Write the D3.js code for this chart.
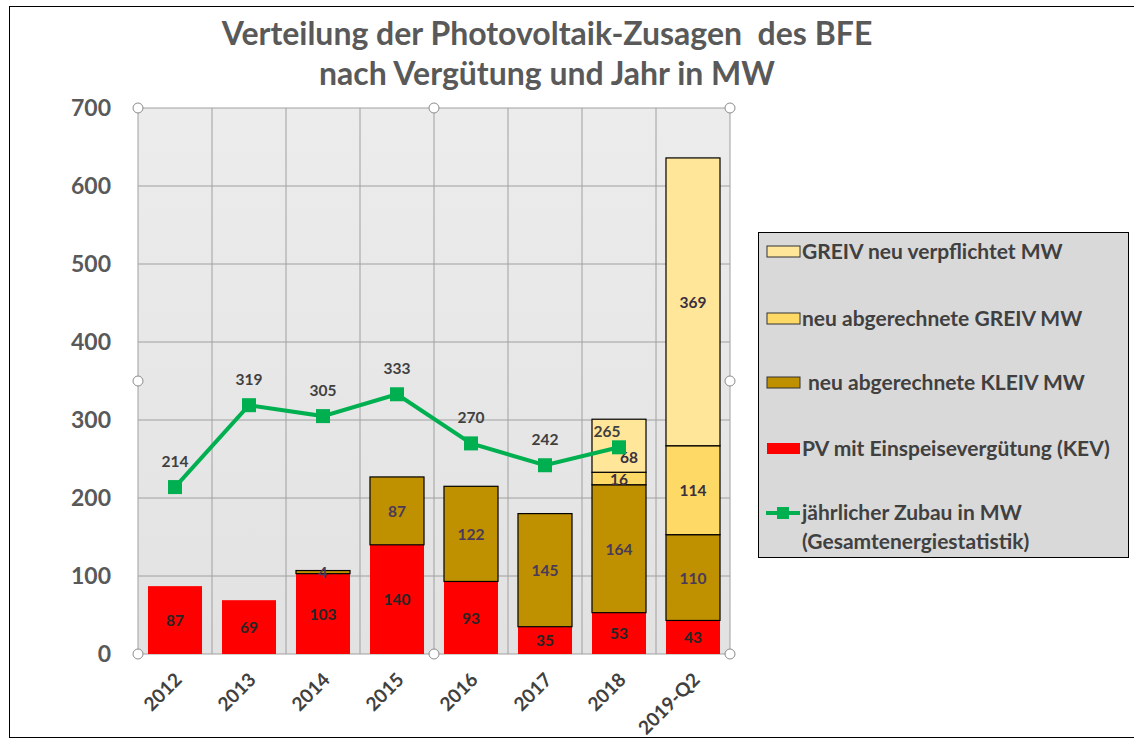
<!DOCTYPE html>
<html>
<head>
<meta charset="utf-8">
<script src="https://cdn.jsdelivr.net/npm/d3@7/dist/d3.min.js"></script>
<style>
  body { margin: 0; background: #fff; }
  svg text { font-family: Lato, "Open Sans", "DejaVu Sans", sans-serif; font-weight: bold; }
</style>
</head>
<body>
<div id="chart"></div>
<script>
// data
const years = ["2012", "2013", "2014", "2015", "2016", "2017", "2018", "2019-Q2"];
const kev = [87, 69, 103, 140, 93, 35, 53, 43];
const kleiv = [0, 0, 4, 87, 122, 145, 164, 110];
const greivAbgerechnet = [0, 0, 0, 0, 0, 0, 16, 114];
const greivVerpflichtet = [0, 0, 0, 0, 0, 0, 68, 369];
const zubau = [214, 319, 305, 333, 270, 242, 265, null];
const yTicks = [0, 100, 200, 300, 400, 500, 600, 700];

const width = 1134, height = 742;
const plot = { left: 138, right: 730, top: 108, bottom: 654 };

const svg = d3.select("#chart").append("svg")
    .attr("width", width)
    .attr("height", height);

// outer frame
svg.append("rect")
    .attr("x", 9.5).attr("y", 6.5)
    .attr("width", width).attr("height", 731)
    .attr("fill", "#fff").attr("stroke", "#000");

// title
const title = svg.append("text")
    .attr("text-anchor", "middle")
    .attr("fill", "#595959")
    .style("font-size", "32px")
    .style("white-space", "pre");
title.append("tspan").attr("x", 547).attr("y", 45)
    .text("Verteilung der Photovoltaik-Zusagen  des BFE");
title.append("tspan").attr("x", 547).attr("y", 85)
    .text("nach Vergütung und Jahr in MW");

const x = d3.scaleBand()
    .domain(years)
    .range([plot.left, plot.right])
    .padding(0);

const y = d3.scaleLinear()
    .domain([0, 700])
    .range([plot.bottom, plot.top]);

const barW = x.bandwidth() * 0.73;

// plot background
const grad = svg.append("defs").append("linearGradient")
    .attr("id", "bg").attr("x1", 0).attr("y1", 0).attr("x2", 0).attr("y2", 1);
grad.append("stop").attr("offset", "0%").attr("stop-color", "#ececec");
grad.append("stop").attr("offset", "100%").attr("stop-color", "#e2e2e2");

svg.append("rect")
    .attr("x", plot.left).attr("y", plot.top)
    .attr("width", plot.right - plot.left)
    .attr("height", plot.bottom - plot.top)
    .attr("fill", "url(#bg)");

// grid
svg.append("g").selectAll("line")
    .data(yTicks)
    .enter().append("line")
    .attr("x1", plot.left).attr("x2", plot.right)
    .attr("y1", d => y(d)).attr("y2", d => y(d))
    .attr("stroke", "#a0a0a0").attr("stroke-width", 1);

svg.append("g").selectAll("line")
    .data(years.concat(["end"]))
    .enter().append("line")
    .attr("x1", (d, i) => plot.left + i * x.step())
    .attr("x2", (d, i) => plot.left + i * x.step())
    .attr("y1", plot.top).attr("y2", plot.bottom)
    .attr("stroke", "#a0a0a0").attr("stroke-width", 1);

// y axis labels
svg.append("g").selectAll("text")
    .data(yTicks)
    .enter().append("text")
    .attr("x", 111)
    .attr("y", d => y(d) + 8)
    .attr("text-anchor", "end")
    .attr("fill", "#595959")
    .style("font-size", "23px")
    .text(d => d);

// x axis labels
svg.append("g").selectAll("text")
    .data(years)
    .enter().append("text")
    .attr("text-anchor", "end")
    .attr("transform", d => `translate(${x(d) + x.bandwidth() / 2 + 8},${plot.bottom + 27}) rotate(-45)`)
    .attr("fill", "#404040")
    .style("font-size", "19px")
    .text(d => d);

// stacked bars
const series = [
    { key: "kev", name: "PV mit Einspeisevergütung (KEV)", values: kev, fill: "#ff0000", stroke: "none", label: "#262626" },
    { key: "kleiv", name: "neu abgerechnete KLEIV MW", values: kleiv, fill: "#bf9000", stroke: "#000", label: "#4a3a5a" },
    { key: "greivA", name: "neu abgerechnete GREIV MW", values: greivAbgerechnet, fill: "#ffd966", stroke: "#000", label: "#3a3040" },
    { key: "greivV", name: "GREIV neu verpflichtet MW", values: greivVerpflichtet, fill: "#ffe699", stroke: "#000", label: "#3a3040" }
];

const table = years.map((yr, i) => {
    const row = { year: yr };
    series.forEach(s => row[s.key] = s.values[i]);
    return row;
});

const stacked = d3.stack().keys(series.map(s => s.key))(table);

stacked.forEach((layer, li) => {
    const s = series[li];
    const g = svg.append("g");
    g.selectAll("rect")
        .data(layer.filter(d => d[1] - d[0] > 0))
        .enter().append("rect")
        .attr("x", d => x(d.data.year) + (x.bandwidth() - barW) / 2)
        .attr("y", d => y(d[1]))
        .attr("width", barW)
        .attr("height", d => y(d[0]) - y(d[1]))
        .attr("fill", s.fill)
        .attr("stroke", s.stroke)
        .attr("stroke-width", 1.2);
});

// bar value labels
stacked.forEach((layer, li) => {
    const s = series[li];
    svg.append("g").selectAll("text")
        .data(layer.filter(d => d[1] - d[0] > 0))
        .enter().append("text")
        .attr("x", d => x(d.data.year) + x.bandwidth() / 2 + (s.key === "greivV" && d.data.year === "2018" ? 10 : 0))
        .attr("y", d => (y(d[0]) + y(d[1])) / 2 + 6 + (s.key === "greivV" && d.data.year === "2018" ? 11 : 0))
        .attr("text-anchor", "middle")
        .attr("fill", s.label)
        .style("font-size", "15.5px")
        .text(d => d[1] - d[0]);
});

// line: jährlicher Zubau
const lineData = years.map((yr, i) => ({ year: yr, value: zubau[i] }));
const line = d3.line()
    .defined(d => d.value !== null)
    .x(d => x(d.year) + x.bandwidth() / 2)
    .y(d => y(d.value));

svg.append("path")
    .datum(lineData)
    .attr("d", line)
    .attr("fill", "none")
    .attr("stroke", "#00b050")
    .attr("stroke-width", 4);

const pts = lineData.filter(d => d.value !== null);
svg.append("g").selectAll("rect")
    .data(pts)
    .enter().append("rect")
    .attr("x", d => x(d.year) + x.bandwidth() / 2 - 7)
    .attr("y", d => y(d.value) - 7)
    .attr("width", 14).attr("height", 14)
    .attr("fill", "#00b050");

svg.append("g").selectAll("text")
    .data(pts)
    .enter().append("text")
    .attr("x", d => x(d.year) + x.bandwidth() / 2 + (d.year === "2018" ? -12 : 0))
    .attr("y", d => y(d.value) - (d.year === "2018" ? 10 : 20))
    .attr("text-anchor", "middle")
    .attr("fill", "#404040")
    .style("font-size", "15.5px")
    .text(d => d.value);

// selection handles on plot area
const handles = [
    [plot.left, plot.top], [(plot.left + plot.right) / 2, plot.top], [plot.right, plot.top],
    [plot.left, (plot.top + plot.bottom) / 2], [plot.right, (plot.top + plot.bottom) / 2],
    [plot.left, plot.bottom], [(plot.left + plot.right) / 2, plot.bottom], [plot.right, plot.bottom]
];
svg.append("g").selectAll("circle")
    .data(handles)
    .enter().append("circle")
    .attr("cx", d => d[0]).attr("cy", d => d[1])
    .attr("r", 5)
    .attr("fill", "#fff")
    .attr("stroke", "#8c8c8c");

// legend
const legend = svg.append("g");
legend.append("rect")
    .attr("x", 758.5).attr("y", 232.5)
    .attr("width", 370).attr("height", 325)
    .attr("fill", "#d9d9d9")
    .attr("stroke", "#000");

const legendItems = [series[3], series[2], series[1], series[0]];
const legendY = [252, 319, 383, 449];

legendItems.forEach((s, i) => {
    legend.append("rect")
        .attr("x", 767).attr("y", legendY[i] - 6)
        .attr("width", 33).attr("height", 11)
        .attr("fill", s.fill)
        .attr("stroke", s.stroke === "none" ? "none" : "#333");
    legend.append("text")
        .attr("x", s.key === "kleiv" ? 808 : 802)
        .attr("y", legendY[i] + 7)
        .attr("fill", "#404040")
        .style("font-size", "21px")
        .text(s.name);
});

legend.append("line")
    .attr("x1", 766).attr("x2", 800)
    .attr("y1", 513).attr("y2", 513)
    .attr("stroke", "#00b050").attr("stroke-width", 4);
legend.append("rect")
    .attr("x", 777).attr("y", 507)
    .attr("width", 12).attr("height", 12)
    .attr("fill", "#00b050");
const lt = legend.append("text")
    .attr("fill", "#404040")
    .style("font-size", "21px");
lt.append("tspan").attr("x", 802).attr("y", 520).text("jährlicher Zubau in MW");
lt.append("tspan").attr("x", 802).attr("y", 549).text("(Gesamtenergiestatistik)");
</script>
</body>
</html>
